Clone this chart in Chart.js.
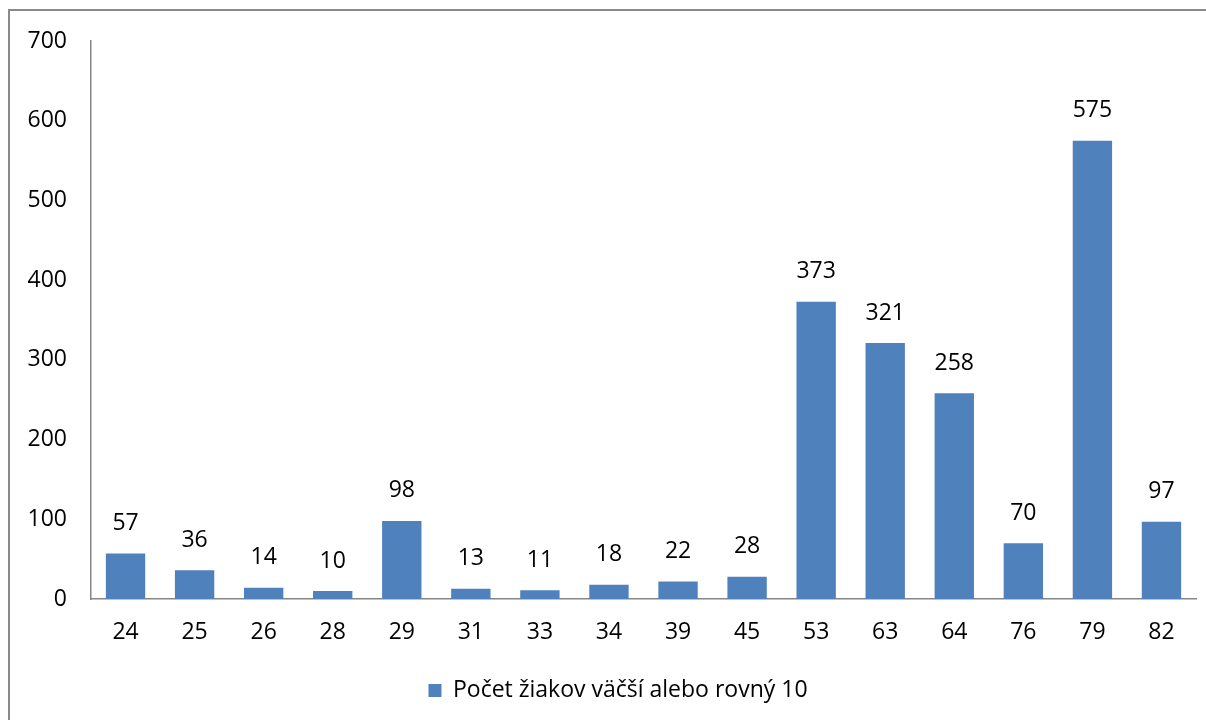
<!DOCTYPE html>
<html>
<head>
<meta charset="utf-8">
<script src="https://cdn.jsdelivr.net/npm/chart.js@4/dist/chart.umd.min.js"></script>
<style>
  html, body { margin: 0; padding: 0; background: #fff; }
  #wrap { width: 1206px; height: 720px; }
</style>
</head>
<body>
<div id="wrap"><canvas id="chart" width="1206" height="720"></canvas></div>
<script>
const categories = ["24", "25", "26", "28", "29", "31", "33", "34", "39", "45", "53", "63", "64", "76", "79", "82"]
const counts = [57, 36, 14, 10, 98, 13, 11, 18, 22, 28, 373, 321, 258, 70, 575, 97]
const seriesName = "Počet žiakov väčší alebo rovný 10"
const yTicks = [0, 100, 200, 300, 400, 500, 600, 700]

const FONT = "'Open Sans', 'Noto Sans', sans-serif"
Chart.defaults.font.family = FONT
Chart.defaults.font.size = 23
Chart.defaults.color = "#000"

// frame around the whole picture (only top and left edges are visible)
const frame = {
    id: "frame",
    beforeDraw(chart) {
        const ctx = chart.ctx
        ctx.save()
        ctx.fillStyle = "#fff"
        ctx.fillRect(0, 0, chart.width, chart.height)
        ctx.strokeStyle = "#8a8a8a"
        ctx.lineWidth = 2
        ctx.beginPath()
        ctx.moveTo(9, chart.height)
        ctx.lineTo(9, 10)
        ctx.lineTo(chart.width, 10)
        ctx.stroke()
        ctx.restore()
    }
}

// legend sits a bit right of the canvas centre
const legendShift = {
    id: "legendShift",
    afterLayout(chart) {
        const lg = chart.legend
        lg.left += 15
        lg.right += 15
        lg.legendHitBoxes.forEach(b => { b.left += 15 })
    }
}

// value labels above each bar
const barLabels = {
    id: "barLabels",
    afterDatasetsDraw(chart) {
        const ctx = chart.ctx
        const meta = chart.getDatasetMeta(0)
        ctx.save()
        ctx.font = "23px " + FONT
        ctx.fillStyle = "#000"
        ctx.textAlign = "center"
        ctx.textBaseline = "middle"
        meta.data.forEach(function(bar, i) {
            ctx.fillText(String(counts[i]), bar.x, bar.y - 30)
        })
        ctx.restore()
    }
}

const ctx = document.getElementById("chart").getContext("2d")
new Chart(ctx, {
    type: "bar",
    data: {
        labels: categories,
        datasets: [{
            label: seriesName,
            data: counts,
            backgroundColor: "#4F81BD",
            borderWidth: 0,
            categoryPercentage: 1,
            barPercentage: 0.57
        }]
    },
    options: {
        responsive: false,
        animation: false,
        layout: {
            padding: { left: 10, right: 10, top: 41, bottom: 8 }
        },
        scales: {
            x: {
                grid: { display: false, drawTicks: false },
                border: { display: true, color: "#868686", width: 1.5 },
                ticks: { padding: 20 },
                afterFit(scale) { scale.height = 70 }
            },
            y: {
                min: 0,
                max: 700,
                grid: { display: false, drawTicks: false },
                border: { display: true, color: "#868686", width: 1.5 },
                afterBuildTicks(scale) {
                    scale.ticks = yTicks.map(v => ({ value: v }))
                },
                ticks: { padding: 24 },
                afterFit(scale) { scale.width = 81 }
            }
        },
        plugins: {
            legend: {
                position: "bottom",
                labels: {
                    boxWidth: 13,
                    boxHeight: 13,
                    padding: 10,
                    color: "#000"
                }
            },
            tooltip: { enabled: false }
        }
    },
    plugins: [frame, legendShift, barLabels]
})
</script>
</body>
</html>
